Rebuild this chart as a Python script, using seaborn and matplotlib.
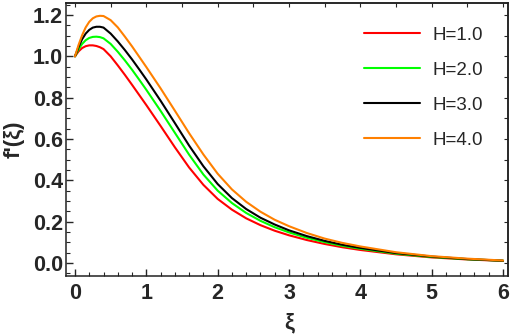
import numpy as np
import pandas as pd
import seaborn as sns
import matplotlib
matplotlib.use("Agg")
import matplotlib.pyplot as plt
from matplotlib.ticker import MultipleLocator, FormatStrFormatter

# --- data ---
xi = [0, 0.05, 0.1, 0.15, 0.2, 0.25, 0.3, 0.35, 0.4, 0.5, 0.6, 0.7, 0.8, 0.9, 1.0,
      1.2, 1.4, 1.6, 1.8, 2.0, 2.2, 2.4, 2.6, 2.8, 3.0, 3.25, 3.5, 3.75, 4.0,
      4.5, 5.0, 5.5, 6.0]
f_h1 = [1.000, 1.024, 1.040, 1.049, 1.053, 1.053, 1.050, 1.044, 1.035, 1.000, 0.956,
        0.910, 0.862, 0.813, 0.764, 0.663, 0.560, 0.462, 0.378, 0.310, 0.258, 0.216,
        0.183, 0.156, 0.134, 0.111, 0.092, 0.076, 0.063, 0.042, 0.027, 0.017, 0.010]
f_h2 = [1.000, 1.034, 1.060, 1.078, 1.089, 1.094, 1.095, 1.093, 1.087, 1.060, 1.022,
        0.980, 0.935, 0.887, 0.838, 0.736, 0.630, 0.524, 0.428, 0.350, 0.290, 0.242,
        0.204, 0.173, 0.148, 0.122, 0.101, 0.083, 0.069, 0.045, 0.029, 0.018, 0.011]
f_h3 = [1.000, 1.045, 1.083, 1.110, 1.128, 1.139, 1.143, 1.143, 1.139, 1.110, 1.072,
        1.030, 0.985, 0.937, 0.888, 0.785, 0.677, 0.568, 0.468, 0.382, 0.314, 0.261,
        0.219, 0.186, 0.158, 0.130, 0.107, 0.088, 0.073, 0.048, 0.031, 0.019, 0.011]
f_h4 = [1.000, 1.055, 1.102, 1.140, 1.167, 1.184, 1.193, 1.196, 1.195, 1.175, 1.140,
        1.095, 1.048, 0.998, 0.948, 0.845, 0.737, 0.628, 0.525, 0.432, 0.356, 0.296,
        0.248, 0.209, 0.178, 0.145, 0.118, 0.097, 0.080, 0.052, 0.033, 0.021, 0.012]
labels = ["H=1.0", "H=2.0", "H=3.0", "H=4.0"]
colors = ["#ff0000", "#00ff00", "#000000", "#ff8000"]

df = pd.concat([pd.DataFrame({"xi": xi, "f": vals, "H": lab})
                for vals, lab in zip([f_h1, f_h2, f_h3, f_h4], labels)])

sns.set_theme(style="ticks")
plt.rcParams["font.family"] = ["Liberation Sans", "DejaVu Sans"]

fig = plt.figure(figsize=(5.12, 3.36), dpi=100)
ax = fig.add_axes([66 / 512, 1 - 276 / 336, 442 / 512, 273 / 336])

sns.lineplot(data=df, x="xi", y="f", hue="H", palette=dict(zip(labels, colors)),
             linewidth=1.5, ax=ax, sort=False)

ax.set_xlim(-0.126, 6.07)
ax.set_ylim(-0.063, 1.258)
ax.xaxis.set_major_locator(MultipleLocator(1))
ax.xaxis.set_minor_locator(MultipleLocator(0.2))
ax.yaxis.set_major_locator(MultipleLocator(0.2))
ax.yaxis.set_minor_locator(MultipleLocator(0.05))
ax.yaxis.set_major_formatter(FormatStrFormatter("%.1f"))
ax.tick_params(which="major", direction="in", length=5, width=1, labelsize=15.5)
ax.tick_params(which="minor", direction="in", length=3, width=0.8)
ax.tick_params(axis="x", pad=5)
ax.tick_params(axis="y", pad=2)
for lab in ax.get_xticklabels() + ax.get_yticklabels():
    lab.set_fontweight("bold")

# unlabelled ticks on the top and right frame
top = ax.secondary_xaxis("top")
top.xaxis.set_major_locator(MultipleLocator(0.5))
top.tick_params(direction="in", length=3, width=0.8, labeltop=False)
right = ax.secondary_yaxis("right")
right.yaxis.set_major_locator(MultipleLocator(0.1))
right.tick_params(direction="in", length=3, width=0.8, labelright=False)

for sp in list(ax.spines.values()) + [top.spines["top"], right.spines["right"]]:
    sp.set_linewidth(1.1)
    sp.set_color("#222222")

ax.set_xlabel("ξ", fontsize=16, fontweight="bold")
ax.set_ylabel("f'(ξ)", fontsize=16, fontweight="bold")
ax.xaxis.set_label_coords(0.504, -0.132)
ax.yaxis.set_label_coords(-0.093, 0.5)

ax.legend(frameon=False, loc="upper left", bbox_to_anchor=(0.636, 0.975),
          fontsize=13.5, handlelength=3.0, handletextpad=0.65, labelspacing=0.95)

fig.savefig("out.png", dpi=100)
